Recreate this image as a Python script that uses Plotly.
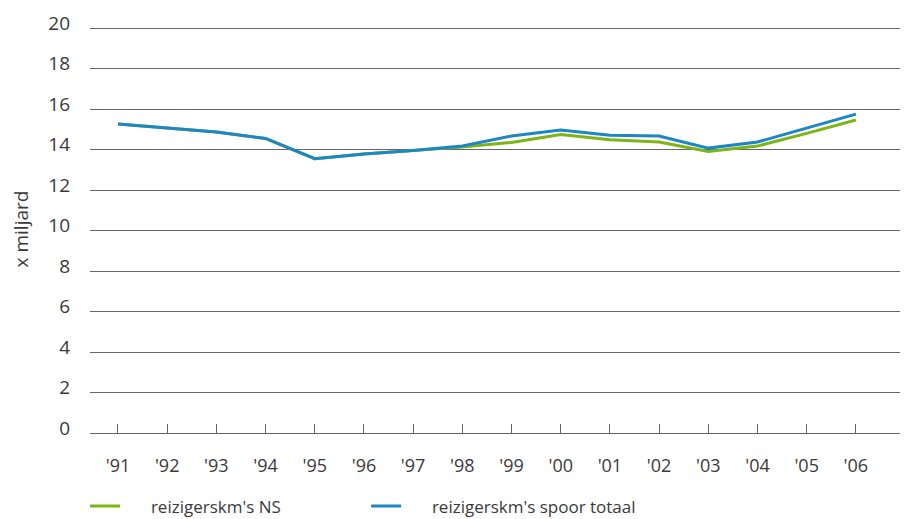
import plotly.graph_objects as go

years = ["'91", "'92", "'93", "'94", "'95", "'96", "'97", "'98",
         "'99", "'00", "'01", "'02", "'03", "'04", "'05", "'06"]
ns = [15.26, 15.06, 14.86, 14.55, 13.55, 13.78, 13.95, 14.12,
      14.35, 14.74, 14.48, 14.37, 13.90, 14.17, 14.80, 15.46]
spoor_totaal = [15.26, 15.06, 14.86, 14.55, 13.55, 13.78, 13.95, 14.17,
                14.67, 14.96, 14.70, 14.67, 14.07, 14.37, 15.06, 15.75]
yticks = [0, 2, 4, 6, 8, 10, 12, 14, 16, 18, 20]

x = list(range(len(years)))

FONT = "Open Sans"
TXT = "#3a3a3a"
GRID = "#666666"
PAD = "\u2003\u00a0\u00a0"

fig = go.Figure()
fig.add_trace(go.Scatter(x=x, y=ns, mode="lines", name=PAD + "reizigerskm's NS",
                         line=dict(color="#7cb518", width=3)))
fig.add_trace(go.Scatter(x=x, y=spoor_totaal, mode="lines", name=PAD + "reizigerskm's spoor totaal",
                         line=dict(color="#1d86c4", width=3)))

fig.update_layout(
    width=900, height=519,
    margin=dict(l=82, r=0, t=17, b=94, autoexpand=False),
    paper_bgcolor="white", plot_bgcolor="white",
    font=dict(family=FONT, size=17, color=TXT),
    showlegend=True,
    legend=dict(orientation="h", x=-0.006, y=-0.136, xanchor="left", yanchor="top",
                entrywidth=236, entrywidthmode="pixels",
                font=dict(family=FONT, size=17, color=TXT)),
    xaxis=dict(
        range=[-0.569, 16.06],
        tickmode="array", tickvals=x, ticktext=years,
        ticks="inside", ticklen=9, tickcolor=GRID, tickwidth=1,
        showgrid=False, showline=False, zeroline=False,
        ticklabelstandoff=20,
        tickfont=dict(family=FONT, size=18, color=TXT),
    ),
    yaxis=dict(
        range=[0, 20.15], tickmode="array", tickvals=yticks,
        showgrid=True, gridcolor=GRID, gridwidth=1,
        zeroline=True, zerolinecolor=GRID, zerolinewidth=1,
        showline=False, ticks="",
        ticklabelstandoff=19, ticklabelshift=-5,
        tickfont=dict(family=FONT, size=19, color=TXT),
        title=dict(text="x miljard", standoff=18, font=dict(family=FONT, size=19, color=TXT)),
    ),
)

fig.write_html("out.html")
